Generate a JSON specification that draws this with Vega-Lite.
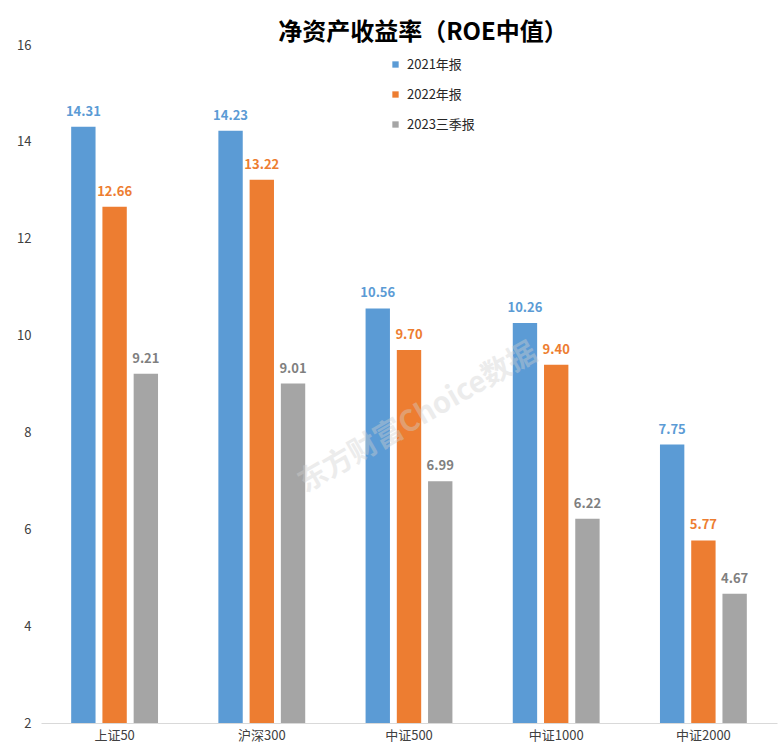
{
  "$schema": "https://vega.github.io/schema/vega-lite/v6.json",
  "autosize": {"type": "none"},
  "width": 736,
  "height": 678,
  "padding": {"left": 41, "top": 45, "right": 7, "bottom": 26},
  "background": "white",
  "title": {
    "text": "净资产收益率（ROE中值）",
    "font": "Noto Sans CJK SC",
    "fontSize": 24,
    "fontWeight": "bold",
    "color": "#000000",
    "anchor": "middle",
    "dx": 14,
    "offset": -6
  },
  "config": {
    "view": {"stroke": null},
    "font": "Noto Sans CJK SC"
  },
  "datasets": {
    "roe": [
      {"cat": "上证50", "series": "2021年报", "value": 14.31},
      {"cat": "上证50", "series": "2022年报", "value": 12.66},
      {"cat": "上证50", "series": "2023三季报", "value": 9.21},
      {"cat": "沪深300", "series": "2021年报", "value": 14.23},
      {"cat": "沪深300", "series": "2022年报", "value": 13.22},
      {"cat": "沪深300", "series": "2023三季报", "value": 9.01},
      {"cat": "中证500", "series": "2021年报", "value": 10.56},
      {"cat": "中证500", "series": "2022年报", "value": 9.70},
      {"cat": "中证500", "series": "2023三季报", "value": 6.99},
      {"cat": "中证1000", "series": "2021年报", "value": 10.26},
      {"cat": "中证1000", "series": "2022年报", "value": 9.40},
      {"cat": "中证1000", "series": "2023三季报", "value": 6.22},
      {"cat": "中证2000", "series": "2021年报", "value": 7.75},
      {"cat": "中证2000", "series": "2022年报", "value": 5.77},
      {"cat": "中证2000", "series": "2023三季报", "value": 4.67}
    ],
    "mark": [
      {"text": "东方财富Choice数据"}
    ]
  },
  "layer": [
    {
      "data": {"name": "roe"},
      "mark": {"type": "bar", "clip": true},
      "encoding": {
        "x": {
          "field": "cat", "type": "nominal",
          "sort": ["上证50", "沪深300", "中证500", "中证1000", "中证2000"],
          "scale": {"paddingInner": 0.41, "paddingOuter": 0.205},
          "axis": {
            "title": null, "labelAngle": 0, "ticks": false,
            "domainColor": "#d9d9d9", "domainWidth": 1,
            "labelFontSize": 13, "labelColor": "#404040", "labelPadding": 6,
            "labelFont": "Noto Sans CJK SC"
          }
        },
        "xOffset": {
          "field": "series", "type": "nominal",
          "sort": ["2021年报", "2022年报", "2023三季报"],
          "scale": {"paddingInner": 0.22, "paddingOuter": 0}
        },
        "y": {
          "field": "value", "type": "quantitative",
          "scale": {"domain": [2, 16], "nice": false, "zero": false},
          "axis": {
            "title": null, "values": [2, 4, 6, 8, 10, 12, 14, 16],
            "grid": false, "domain": false, "ticks": false,
            "labelFontSize": 13, "labelColor": "#404040", "labelPadding": 10,
            "labelFont": "Noto Sans CJK SC"
          }
        },
        "color": {
          "field": "series", "type": "nominal",
          "sort": ["2021年报", "2022年报", "2023三季报"],
          "scale": {"domain": ["2021年报", "2022年报", "2023三季报"], "range": ["#5B9BD5", "#ED7D31", "#A5A5A5"]},
          "legend": {
            "title": null, "orient": "none", "legendX": 348, "legendY": 13,
            "direction": "vertical", "symbolType": "square", "symbolSize": 40,
            "symbolStrokeWidth": 0, "labelFontSize": 13, "labelColor": "#262626",
            "labelFont": "Noto Sans CJK SC", "rowPadding": 16, "labelOffset": 5,
            "padding": 0
          }
        }
      }
    },
    {
      "data": {"name": "roe"},
      "mark": {"type": "text", "baseline": "alphabetic", "dy": -11, "fontSize": 13, "fontWeight": "bold", "font": "Noto Sans CJK SC"},
      "encoding": {
        "x": {"field": "cat", "type": "nominal", "sort": ["上证50", "沪深300", "中证500", "中证1000", "中证2000"]},
        "xOffset": {"field": "series", "type": "nominal", "sort": ["2021年报", "2022年报", "2023三季报"]},
        "y": {"field": "value", "type": "quantitative"},
        "text": {"field": "value", "type": "quantitative", "format": ".2f"},
        "color": {
          "field": "series", "type": "nominal",
          "scale": {"domain": ["2021年报", "2022年报", "2023三季报"], "range": ["#5B9BD5", "#ED7D31", "#7F7F7F"]},
          "legend": null
        }
      }
    },
    {
      "data": {"name": "mark"},
      "mark": {"type": "text", "angle": -30, "fontSize": 29, "fontWeight": "bold", "fill": "#d0d0d0", "opacity": 0.4, "dx": 10, "font": "Noto Sans CJK SC"},
      "encoding": {
        "x": {"datum": "中证500"},
        "y": {"datum": 8.2},
        "text": {"field": "text", "type": "nominal"}
      }
    }
  ],
  "resolve": {"scale": {"color": "independent"}}
}
